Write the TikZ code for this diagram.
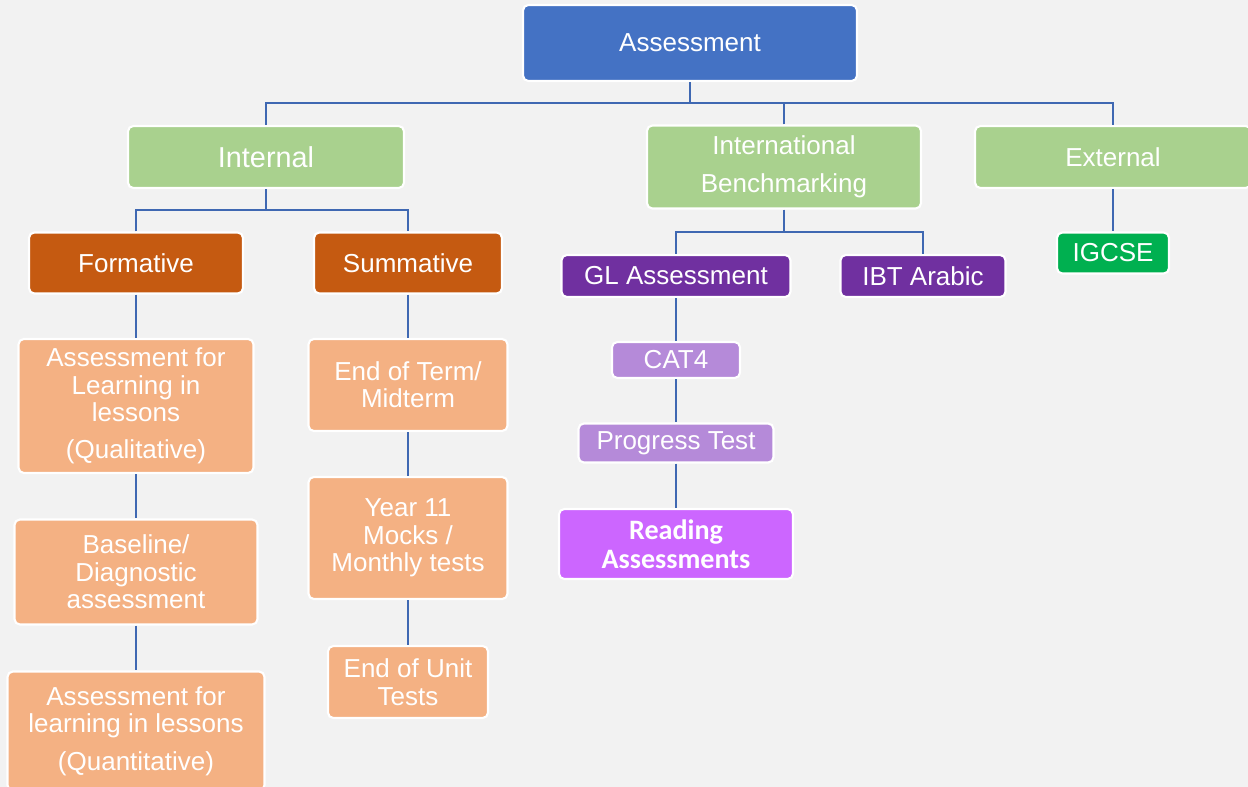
\documentclass[tikz,border=0pt]{standalone}
\usepackage{fontspec}
\setmainfont{Liberation Sans}
\newfontfamily\calfont{Carlito}
\usepackage{tikz}

\definecolor{paper}{HTML}{F2F2F2}
\definecolor{rootblue}{HTML}{4472C4}
\definecolor{linkblue}{HTML}{3F68B2}
\definecolor{leafgreen}{HTML}{A9D18E}
\definecolor{rust}{HTML}{C55A11}
\definecolor{peach}{HTML}{F4B183}
\definecolor{plum}{HTML}{7030A0}
\definecolor{lilac}{HTML}{B58AD9}
\definecolor{orchid}{HTML}{CC66FF}
\definecolor{exgreen}{HTML}{00B050}

\begin{document}
\begin{tikzpicture}[x=0.02cm, y=-0.02cm,
    box/.style={rectangle, rounded corners=3pt, draw=white, line width=1.2pt, text=white,
                align=center, inner sep=0pt, font=\fontsize{14.8}{15.6}\selectfont},
    toplevel/.style={box, fill=rootblue},
    branch/.style={box, fill=leafgreen},
    kind/.style={box, fill=rust},
    task/.style={box, fill=peach},
    bench/.style={box, fill=plum},
    gltest/.style={box, fill=lilac},
    link/.style={draw=linkblue, line width=1.6pt}]
                \useasboundingbox (0,0) rectangle (1248,787);
                \fill[paper] (0,0) rectangle (1248,787);

                \node[toplevel, minimum width=6.68cm, minimum height=1.52cm] (root) at (690,43) {Assessment};

                \node[branch, minimum width=5.52cm, minimum height=1.24cm, font=\fontsize{16.4}{17}\selectfont] (internal) at (266,157) {Internal};
                \node[branch, minimum width=5.48cm, minimum height=1.66cm] (intl) at (784,167) {International\\[6pt]Benchmarking};
                \node[branch, minimum width=5.52cm, minimum height=1.24cm] (external) at (1113,157) {External};

                \node[kind, minimum width=4.28cm, minimum height=1.22cm] (formative) at (136,263) {Formative};
                \node[kind, minimum width=3.76cm, minimum height=1.22cm] (summative) at (408,263) {Summative};

                \node[task, minimum width=4.70cm, minimum height=2.68cm] (afl) at (136,406) {Assessment for\\Learning in\\lessons\\[5.4pt](Qualitative)};
                \node[task, minimum width=4.86cm, minimum height=2.10cm] (baseline) at (136,572) {Baseline/\\Diagnostic\\assessment};
                \node[task, minimum width=5.14cm, minimum height=2.38cm] (aflq) at (136,731) {Assessment for\\learning in lessons\\[6pt](Quantitative)};

                \node[task, minimum width=3.98cm, minimum height=1.84cm] (term) at (408,385) {End of Term/\\Midterm};
                \node[task, minimum width=3.98cm, minimum height=2.44cm] (mocks) at (408,538) {Year 11\\Mocks /\\Monthly tests};
                \node[task, minimum width=3.20cm, minimum height=1.44cm] (unit) at (408,682) {End of Unit\\Tests};

                \node[bench, minimum width=4.58cm, minimum height=0.84cm] (gl) at (676,276) {GL Assessment};
                \node[bench, minimum width=3.30cm, minimum height=0.84cm] (ibt) at (923,276) {IBT Arabic};
                \node[gltest, minimum width=2.56cm, minimum height=0.72cm] (cat) at (676,360) {CAT4};
                \node[gltest, minimum width=3.90cm, minimum height=0.78cm] (progress) at (676,443) {Progress Test};
                \node[box, fill=orchid, minimum width=4.68cm, minimum height=1.40cm, font=\calfont\bfseries\fontsize{16}{16.6}\selectfont] (reading) at (676,544) {Reading\\Assessments};

                \node[box, fill=exgreen, minimum width=2.24cm, minimum height=0.82cm] (igcse) at (1113,253) {IGCSE};

                \coordinate (topbus) at (690,103);
                \coordinate (intbus) at (266,210);
                \coordinate (intlbus) at (784,232);

                \draw[link] (root) -- (topbus);
                \draw[link] (internal.north) |- (topbus) -| (external.north);
                \draw[link] (intl.north) -- (intl.north |- topbus);

                \draw[link] (internal.south) -- (intbus);
                \draw[link] (formative.north) |- (intbus) -| (summative.north);
                \draw[link] (intl.south) -- (intlbus);
                \draw[link] (gl.north) |- (intlbus) -| (ibt.north);
                \draw[link] (external) -- (igcse);

                \draw[link] (formative) -- (afl);
                \draw[link] (afl) -- (baseline);
                \draw[link] (baseline) -- (aflq);
                \draw[link] (summative) -- (term);
                \draw[link] (term) -- (mocks);
                \draw[link] (mocks) -- (unit);
                \draw[link] (gl) -- (cat);
                \draw[link] (cat) -- (progress);
                \draw[link] (progress) -- (reading);
            \end{tikzpicture}
\end{document}
